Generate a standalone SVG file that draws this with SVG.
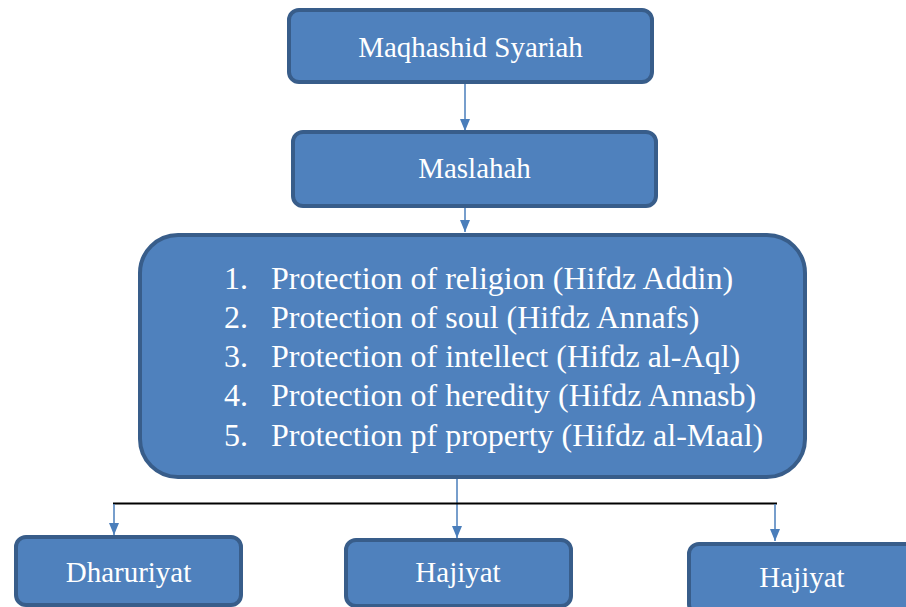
<svg xmlns="http://www.w3.org/2000/svg" width="906" height="607" viewBox="0 0 906 607">
<defs>
<style>
.box{fill:#4f81bd;stroke:#385d8a;stroke-width:4}
.lbl{font-family:'Liberation Serif','Tinos','DejaVu Serif',serif;fill:#ffffff;font-size:29px}
.list{font-family:'Liberation Serif','Tinos','DejaVu Serif',serif;fill:#ffffff;font-size:32px}
.con{stroke:#4a7ebb;stroke-width:1.5;fill:none}
</style>
<marker id="arr" viewBox="0 0 12 10" refX="12" refY="5" markerWidth="12" markerHeight="10" markerUnits="userSpaceOnUse" orient="auto">
<path d="M0,0 L12,5 L0,10 Z" fill="#4a7ebb"/>
</marker>
</defs>
<rect width="906" height="607" fill="#ffffff"/>
<g id="connectors">
<line class="con" x1="465" y1="83" x2="465" y2="131" marker-end="url(#arr)"/>
<line class="con" x1="465" y1="207" x2="465" y2="232" marker-end="url(#arr)"/>
<line class="con" x1="457" y1="478" x2="457" y2="538" marker-end="url(#arr)"/>
<line x1="113" y1="503.5" x2="777" y2="503.5" stroke="#000000" stroke-width="2"/>
<line class="con" x1="114" y1="504" x2="114" y2="535" marker-end="url(#arr)"/>
<line class="con" x1="775" y1="504" x2="775" y2="541" marker-end="url(#arr)"/>
</g>
<g id="n-maqhashid">
<rect class="box" x="289" y="10" width="363" height="72" rx="10"/>
<text class="lbl" x="470.5" y="57" text-anchor="middle" font-family="Liberation Serif">Maqhashid Syariah</text>
</g>
<g id="n-maslahah">
<rect class="box" x="293" y="132" width="363" height="74" rx="10"/>
<text class="lbl" x="474.5" y="178" text-anchor="middle" font-family="Liberation Serif">Maslahah</text>
</g>
<g id="n-protection">
<rect class="box" x="140" y="235" width="665" height="242" rx="38"/>
<text class="list" x="224" y="289">1.</text>
<text class="list" x="271" y="289">Protection of religion (Hifdz Addin)</text>
<text class="list" x="224" y="328">2.</text>
<text class="list" x="271" y="328">Protection of soul (Hifdz Annafs)</text>
<text class="list" x="224" y="367">3.</text>
<text class="list" x="271" y="367">Protection of intellect (Hifdz al-Aql)</text>
<text class="list" x="224" y="406">4.</text>
<text class="list" x="271" y="406">Protection of heredity (Hifdz Annasb)</text>
<text class="list" x="224" y="446">5.</text>
<text class="list" x="271" y="446">Protection pf property (Hifdz al-Maal)</text>
</g>
<g id="n-dharuriyat">
<rect class="box" x="16" y="537" width="225" height="68" rx="10"/>
<text class="lbl" x="128.5" y="582" text-anchor="middle">Dharuriyat</text>
</g>
<g id="n-hajiyat1">
<rect class="box" x="346" y="540" width="225" height="66" rx="10"/>
<text class="lbl" x="458" y="582" text-anchor="middle">Hajiyat</text>
</g>
<g id="n-hajiyat2">
<rect class="box" x="689" y="544" width="240" height="70" rx="10"/>
<text class="lbl" x="802" y="587" text-anchor="middle">Hajiyat</text>
</g>
</svg>
